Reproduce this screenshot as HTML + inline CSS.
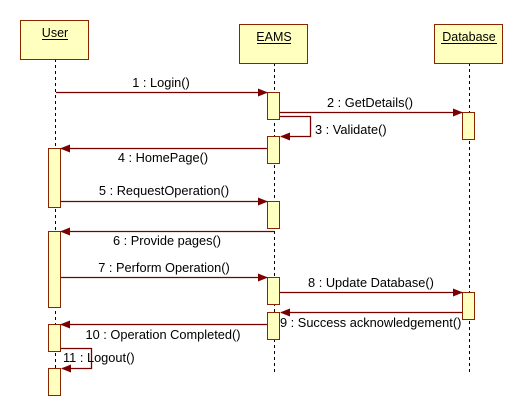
<!DOCTYPE html>
<html><head><style>
html,body{margin:0;padding:0;background:#fff;}
svg{display:block;font-family:"Liberation Sans","DejaVu Sans",sans-serif;font-size:11px;}
</style></head><body>
<svg width="525" height="416" viewBox="0 0 525 416" xmlns="http://www.w3.org/2000/svg">
<defs>
<marker id="a" markerWidth="10" markerHeight="8" refX="9" refY="4" orient="auto" markerUnits="userSpaceOnUse">
<path d="M0,0 L10,4 L0,8 z" fill="#7a0000"/>
</marker>
</defs>
<g stroke="#000" stroke-dasharray="3,3" stroke-width="1">
<line x1="55.5" y1="59" x2="55.5" y2="395"/>
<line x1="274.5" y1="63" x2="274.5" y2="373"/>
<line x1="469.5" y1="63" x2="469.5" y2="373"/>
</g>
<g fill="#ffffc0" stroke="#8b2500" stroke-width="1">
<rect x="20.5" y="20.5" width="68" height="39"/>
<rect x="239.5" y="24.5" width="68" height="39"/>
<rect x="434.5" y="24.5" width="68" height="39"/>
</g>
<g fill="#000" text-anchor="middle" font-size="12.5">
<text x="55" y="37">User</text>
<text x="274" y="41">EAMS</text>
<text x="469" y="41">Database</text>
</g>
<g stroke="#000" stroke-width="1">
<line x1="42" y1="39.5" x2="68" y2="39.5"/>
<line x1="257" y1="43.5" x2="291" y2="43.5"/>
<line x1="441" y1="43.5" x2="497" y2="43.5"/>
</g>
<g fill="#ffffc0" stroke="#8b2500" stroke-width="1">
<rect x="267.5" y="92.5" width="12" height="27"/>
<rect x="462.5" y="112.5" width="12" height="27"/>
<rect x="267.5" y="136.5" width="12" height="27"/>
<rect x="48.5" y="148.5" width="12" height="59"/>
<rect x="267.5" y="201.5" width="12" height="27"/>
<rect x="48.5" y="231.5" width="12" height="76"/>
<rect x="267.5" y="277.5" width="12" height="27"/>
<rect x="462.5" y="292.5" width="12" height="27"/>
<rect x="267.5" y="312.5" width="12" height="27"/>
<rect x="48.5" y="324.5" width="12" height="27"/>
<rect x="48.5" y="368.5" width="12" height="27"/>
</g>
<g stroke="#7a0000" stroke-width="1.3" fill="none" marker-end="url(#a)">
<line x1="56" y1="92.5" x2="267" y2="92.5"/>
<line x1="280" y1="112.5" x2="462" y2="112.5"/>
<polyline points="280,116.5 310.5,116.5 310.5,136.5 281,136.5"/>
<line x1="267" y1="148.5" x2="61" y2="148.5"/>
<line x1="61" y1="201.5" x2="267" y2="201.5"/>
<line x1="274" y1="231.5" x2="61" y2="231.5"/>
<line x1="61" y1="277.5" x2="267" y2="277.5"/>
<line x1="280" y1="292.5" x2="462" y2="292.5"/>
<line x1="462" y1="312.5" x2="281" y2="312.5"/>
<line x1="267" y1="324.5" x2="61" y2="324.5"/>
<polyline points="61,348.5 91.5,348.5 91.5,368.5 62,368.5"/>
</g>
<g fill="#000" font-size="12.8">
<text x="161" y="87" text-anchor="middle">1 : Login()</text>
<text x="370" y="107" text-anchor="middle">2 : GetDetails()</text>
<text x="315" y="134">3 : Validate()</text>
<text x="163" y="162" text-anchor="middle">4 : HomePage()</text>
<text x="164" y="195" text-anchor="middle">5 : RequestOperation()</text>
<text x="167" y="245" text-anchor="middle">6 : Provide pages()</text>
<text x="164" y="272" text-anchor="middle">7 : Perform Operation()</text>
<text x="371" y="287" text-anchor="middle">8 : Update Database()</text>
<text x="280" y="327">9 : Success acknowledgement()</text>
<text x="163" y="339" text-anchor="middle">10 : Operation Completed()</text>
<text x="63" y="362">11 : Logout()</text>
</g>
</svg>
</body></html>
